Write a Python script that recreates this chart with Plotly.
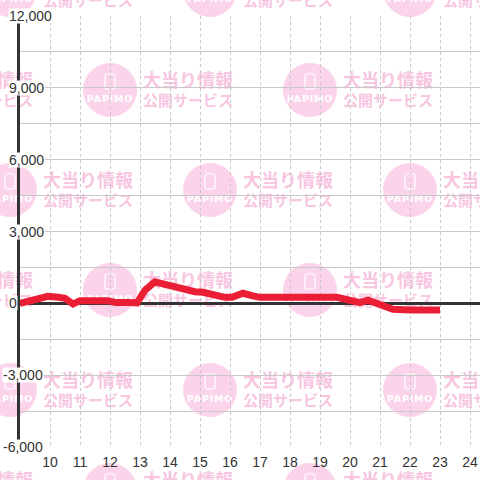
import base64
import plotly.graph_objects as go

# ---- data ----
hours = [9.0, 9.4, 9.93, 10.27, 10.5, 10.77, 11.0, 11.93, 12.17, 12.6, 12.9,
         13.17, 13.5, 13.93, 14.4, 14.83, 15.1, 15.4, 15.83, 16.07, 16.43,
         16.73, 17.0, 19.57, 19.77, 20.1, 20.33, 20.6, 20.77, 21.1, 21.43,
         22.0, 23.0]
values = [0, 140, 290, 250, 210, -30, 110, 110, 40, 40, 20,
          555, 900, 760, 600, 485, 460, 350, 250, 250, 420,
          320, 250, 250, 180, 140, 30, 130, 60, -140, -250,
          -280, -280]
x_ticks = list(range(10, 25))
y_ticks = [12000, 9000, 6000, 3000, 0, -3000, -6000]
y_tick_labels = ["12,000", "9,000", "6,000", "3,000", "0", "-3,000", "-6,000"]

# ---- layout geometry (px) ----
W, H = 480, 480
ML, MR, MT, MB = 20, 0, 16, 33
PW, PH = W - ML - MR, H - MT - MB

# ---- watermark tile (svg) ----
def wm_svg():
    parts = [f'<svg xmlns="http://www.w3.org/2000/svg" width="{W}" height="{H}" viewBox="0 0 {W} {H}">']
    rows = [(-10, [10, 210, 410]), (90, [-90, 110, 310]), (190, [10, 210, 410]),
            (290, [-90, 110, 310]), (390, [10, 210, 410]), (490, [-90, 110, 310])]
    for cy, cxs in rows:
        for cx in cxs:
            parts.append(f'<circle cx="{cx}" cy="{cy}" r="27" fill="#fbd3ea"/>')
            parts.append(f'<rect x="{cx-5}" y="{cy-16}" width="10" height="15" rx="1.5" fill="none" stroke="#ffffff" stroke-width="1.2"/>')
            parts.append(f'<text x="{cx}" y="{cy+12}" font-family="DejaVu Sans" font-size="9.5" font-weight="bold" letter-spacing="0.8" fill="#ffffff" text-anchor="middle">PAPIMO</text>')
            parts.append(f'<text x="{cx+33}" y="{cy-3}" font-family="Noto Sans CJK JP" font-size="18" font-weight="bold" fill="#f8c6e1">大当り情報</text>')
            parts.append(f'<text x="{cx+33}" y="{cy+16}" font-family="Noto Sans CJK JP" font-size="15" font-weight="bold" fill="#f8c6e1">公開サービス</text>')
    parts.append('</svg>')
    return "data:image/svg+xml;base64," + base64.b64encode("".join(parts).encode("utf-8")).decode()

fig = go.Figure()
fig.add_trace(go.Scatter(
    x=hours, y=values, mode="lines",
    line=dict(color="#ea1f36", width=7),
    hoverinfo="skip", showlegend=False,
))

font = dict(family="Liberation Sans, Arial, sans-serif", size=14, color="#333333")

annotations = []
for v, t in zip(y_ticks, y_tick_labels):
    left_px = 2 if t.startswith("-") else 7.5
    annotations.append(dict(
        x=(left_px - ML) / PW, xref="paper", xanchor="left",
        y=v, yref="y", yanchor="middle",
        text=t, showarrow=False, font=font,
        bgcolor="#ffffff", borderpad=0, height=14,
    ))

fig.update_layout(
    width=W, height=H,
    margin=dict(l=ML, r=MR, t=MT, b=MB, pad=0),
    paper_bgcolor="#ffffff",
    plot_bgcolor="rgba(0,0,0,0)",
    showlegend=False,
    annotations=annotations,
    images=[dict(
        source=wm_svg(), xref="paper", yref="paper",
        x=-ML / PW, y=1 + MT / PH, sizex=W / PW, sizey=H / PH,
        xanchor="left", yanchor="top", sizing="stretch", layer="below",
    )],
    xaxis=dict(
        range=[9, 9 + PW / 30], tickvals=x_ticks,
        ticktext=[str(t) for t in x_ticks],
        showgrid=True, gridcolor="#c8c8c8", gridwidth=1, griddash="3px,3px",
        zeroline=False, showline=False,
        ticks="outside", ticklen=2, tickcolor="rgba(0,0,0,0)",
        tickfont=font, fixedrange=True, automargin=False,
    ),
    yaxis=dict(
        range=[-6000, 12000], dtick=1500, tick0=0,
        showgrid=True, gridcolor="#c8c8c8", gridwidth=1,
        zeroline=True, zerolinecolor="#333333", zerolinewidth=3,
        showline=True, linecolor="#333333", linewidth=3,
        showticklabels=False, ticks="", fixedrange=True, automargin=False,
    ),
)

fig.write_html(
    "out.html",
    config={"displayModeBar": False},
    post_script="document.body.style.margin='0px';document.body.style.overflow='hidden';",
)
